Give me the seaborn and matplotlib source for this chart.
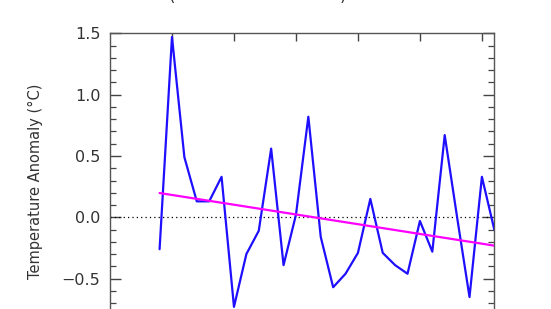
import numpy as np
import pandas as pd
import matplotlib
matplotlib.use("Agg")
import matplotlib.pyplot as plt
from matplotlib.ticker import MultipleLocator
import seaborn as sns

# ---- data ----
years = list(range(1979, 2007))
anomaly = [-0.26, 1.47, 0.49, 0.13, 0.13, 0.33, -0.73, -0.30, -0.11, 0.56,
           -0.39, 0.02, 0.82, -0.16, -0.57, -0.46, -0.29, 0.15, -0.29, -0.39,
           -0.46, -0.03, -0.28, 0.67, 0.00, -0.65, 0.33, -0.10]
trend_years = [1979, 2006]
trend_values = [0.198, -0.231]
y_label = "Temperature Anomaly (\u00b0C)"
x_ticks = [1980, 1985, 1990, 1995, 2000, 2005]
y_ticks = [-0.5, 0.0, 0.5, 1.0, 1.5]

sns.set_style("ticks")
plt.rcParams['font.family'] = ['DejaVu Sans']

W, H = 551, 309
fig = plt.figure(figsize=(W / 100, H / 100), dpi=100)

# axes geometry (pixels): left 110, right 494.3, top 33.3, 122.67 px per unit
ylo, yhi = -1.0, 1.5
left_px, right_px, top_px = 110.0, 494.3, 33.3
ppu = 122.67
h_px = (yhi - ylo) * ppu
ax = fig.add_axes([left_px / W, 1 - (top_px + h_px) / H,
                   (right_px - left_px) / W, h_px / H])

df = pd.DataFrame({"year": years, "anomaly": anomaly})
tr = pd.DataFrame({"year": trend_years, "value": trend_values})

ax.axhline(0, color="black", ls=(0, (1, 2.5)), lw=0.9, zorder=1)
sns.lineplot(data=df, x="year", y="anomaly", ax=ax, color="#1f0fff", lw=1.6,
             zorder=3)
sns.lineplot(data=tr, x="year", y="value", ax=ax, color="#ff00ff", lw=1.6,
             zorder=4)

ax.set_xlim(1975, 2006)
ax.set_ylim(ylo, yhi)
ax.set_xticks(x_ticks)
ax.set_yticks(y_ticks)
ax.set_yticklabels([f"{v:.1f}".replace("-", "\u2212") for v in y_ticks])
ax.yaxis.set_minor_locator(MultipleLocator(0.1))
ax.set_xlabel("")

ax.tick_params(axis="y", which="major", direction="in", length=8, width=1,
               left=True, right=True, labelsize=11.5, labelcolor="#333333",
               color="#444444", pad=7)
ax.tick_params(axis="y", which="minor", direction="in", length=4, width=0.9,
               left=True, right=True, color="#444444")
ax.tick_params(axis="x", which="major", direction="in", length=6, width=1,
               top=True, bottom=False, labeltop=False, labelbottom=False,
               color="#444444")

for s in ["top", "right", "left", "bottom"]:
    ax.spines[s].set_visible(True)
    ax.spines[s].set_color("#555555")
    ax.spines[s].set_linewidth(1.0)

ax.set_ylabel(y_label, fontsize=10.5, color="#333333", va="center")
ax.yaxis.set_label_coords((35 - left_px) / (right_px - left_px),
                          ((217.3 - 181.5) / ppu - ylo) / (yhi - ylo))

# partially visible title (only the lower tails of the parentheses show)
fig.text(172 / W, 1 - 1.0 / H, "(", fontsize=12, color="#333333",
         ha="center", va="baseline")
fig.text(343 / W, 1 - 1.0 / H, ")", fontsize=12, color="#333333",
         ha="center", va="baseline")

fig.savefig("out.png", dpi=100)
